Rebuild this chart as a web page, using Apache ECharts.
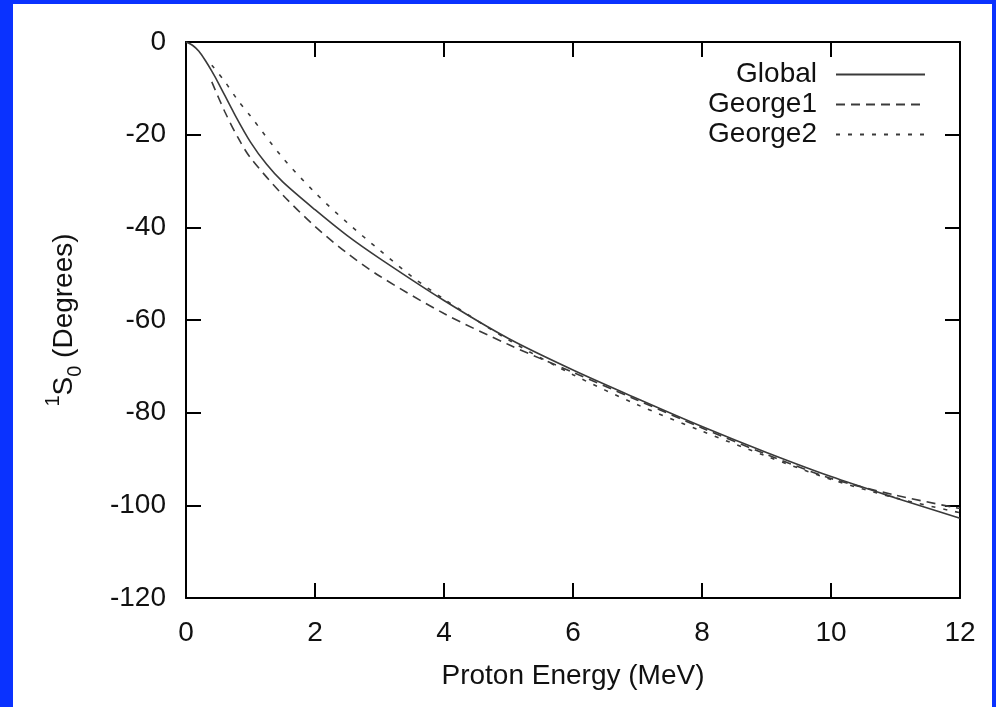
<!DOCTYPE html>
<html>
<head>
<meta charset="utf-8">
<script src="https://cdn.jsdelivr.net/npm/echarts@6/dist/echarts.min.js"></script>
<style>
  html, body { margin: 0; padding: 0; width: 996px; height: 707px; background: #0a32ff; overflow: hidden; }
  #chart { position: absolute; left: 13px; top: 4px; width: 979px; height: 703px; background: #ffffff; }
</style>
</head>
<body>
<div id="chart"></div>
<script>
// ---- data ----
const xTicks = [0, 2, 4, 6, 8, 10, 12];
const yTicks = [0, -20, -40, -60, -80, -100, -120];
const seriesNames = ['Global', 'George1', 'George2'];

const globalE     = [0, 0.1, 0.2, 0.3, 0.4, 0.5, 0.75, 1, 1.25, 1.5, 2, 2.5, 3, 4, 5, 6, 7, 8, 9, 10, 11, 12];
const globalPhase = [0, -0.7, -2, -4, -6.3, -8.8, -15.5, -21.6, -26.4, -30.2, -36.2, -41.8, -46.7, -55.8, -64, -70.8, -77, -83, -88.6, -93.8, -98.4, -102.8];

const george1E     = [0.4, 0.6, 0.8, 1, 1.5, 2, 2.5, 3, 4, 5, 6, 7, 8, 9, 10, 11, 12];
const george1Phase = [-8.6, -15, -20.5, -25, -33, -39.8, -45.6, -50.5, -58.6, -65.3, -71.3, -77.3, -83.3, -89, -94.2, -97.8, -100.7];

const george2E     = [0.4, 0.6, 0.8, 1, 1.5, 2, 2.5, 3, 3.5, 4, 5, 6, 7, 8, 9, 10, 11, 12];
const george2Phase = [-5, -8.5, -12.5, -16, -25, -32.5, -39, -44.9, -50.6, -55.5, -64.3, -71.8, -78.3, -84, -89.4, -94.4, -98.4, -101.6];

function pairs(xs, ys) { return xs.map((x, i) => [x, ys[i]]); }

const FONT = '"Liberation Sans", Arial, Helvetica, sans-serif';
const chart = echarts.init(document.getElementById('chart'), null, { renderer: 'canvas' });

const axisLine = { show: true, onZero: false, lineStyle: { color: '#000', width: 2 } };
const axisTick = { show: true, inside: true, length: 15, lineStyle: { color: '#000', width: 2 } };

const lineColor = '#3a3a3a';

chart.setOption({
  animation: false,
  backgroundColor: '#ffffff',
  textStyle: { fontFamily: FONT },
  grid: { left: 173, top: 38, right: 32, bottom: 109, containLabel: false },
  legend: {
    data: seriesNames,
    orient: 'vertical',
    right: 61,
    top: 51,
    align: 'right',
    itemWidth: 89,
    itemHeight: 14,
    itemGap: 1,
    itemStyle: { color: 'rgba(0,0,0,0)', opacity: 0, borderWidth: 0 },
    textStyle: { fontSize: 28, color: '#111', fontFamily: FONT, lineHeight: 29, padding: [0, 14, 0, 0] }
  },
  xAxis: [
    {
      type: 'value', position: 'bottom', min: 0, max: 12, interval: 2,
      axisLine, axisTick, splitLine: { show: false },
      axisLabel: { fontSize: 28, color: '#111', margin: 21, fontFamily: FONT,
        customValues: xTicks },
      name: 'Proton Energy (MeV)', nameLocation: 'middle', nameGap: 64,
      nameTextStyle: { fontSize: 28, color: '#111', fontFamily: FONT }
    },
    {
      type: 'value', position: 'top', min: 0, max: 12, interval: 2,
      axisLine, axisTick, splitLine: { show: false }, axisLabel: { show: false }
    }
  ],
  yAxis: [
    {
      type: 'value', position: 'left', min: -120, max: 0, interval: 20,
      axisLine, axisTick, splitLine: { show: false },
      axisLabel: { fontSize: 28, color: '#111', margin: 20, fontFamily: FONT,
        customValues: yTicks },
      name: '{sup|1}{b|S}{sub|0}{b| (Degrees)}',
      nameLocation: 'middle', nameRotate: 90, nameGap: 101,
      nameTextStyle: {
        fontFamily: FONT, color: '#111',
        rich: {
          b: { fontSize: 28, lineHeight: 42, fontFamily: FONT, color: '#111' },
          sup: { fontSize: 20, lineHeight: 42, verticalAlign: 'top', fontFamily: FONT, color: '#111' },
          sub: { fontSize: 20, lineHeight: 42, verticalAlign: 'bottom', fontFamily: FONT, color: '#111' }
        }
      }
    },
    {
      type: 'value', position: 'right', min: -120, max: 0, interval: 20,
      axisLine, axisTick, splitLine: { show: false }, axisLabel: { show: false }
    }
  ],
  series: [
    {
      name: 'Global', type: 'line', data: pairs(globalE, globalPhase),
      symbol: 'none', smooth: 0.3,
      itemStyle: { color: lineColor },
      lineStyle: { color: lineColor, width: 1.6, type: 'solid' }
    },
    {
      name: 'George1', type: 'line', data: pairs(george1E, george1Phase),
      symbol: 'none', smooth: 0.3,
      itemStyle: { color: lineColor },
      lineStyle: { color: lineColor, width: 1.6, type: [9, 6] }
    },
    {
      name: 'George2', type: 'line', data: pairs(george2E, george2Phase),
      symbol: 'none', smooth: 0.3,
      itemStyle: { color: lineColor },
      lineStyle: { color: lineColor, width: 1.6, type: [4, 8] }
    }
  ]
});
</script>
</body>
</html>
